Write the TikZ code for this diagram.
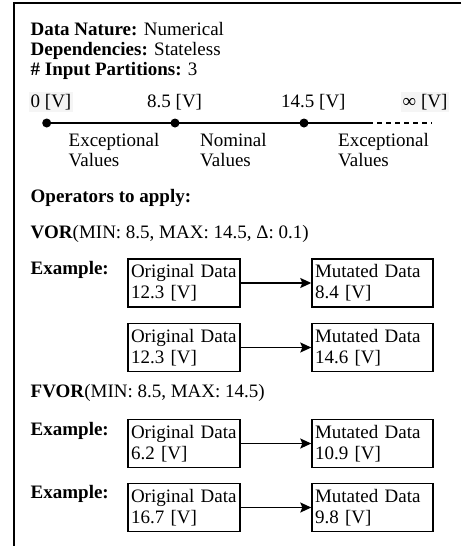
\documentclass[tikz,border=0pt]{standalone}
\usepackage{fontspec}
\setmainfont{Liberation Serif}
\usetikzlibrary{arrows.meta}
\begin{document}
\begin{tikzpicture}[x=1pt,y=-1pt,
  txt/.style={anchor=base west,inner sep=0pt,font=\fontsize{19}{21}\selectfont},
  lbl/.style={txt,fill=black!4,inner xsep=1.5pt,inner ysep=2pt},
  databox/.style={draw,line width=1.4pt,minimum width=#1,minimum height=48,text width=#1-6,align=left,inner xsep=2pt,inner ysep=0pt,font=\fontsize{19}{21}\selectfont},
  dot/.style={circle,fill=black,inner sep=0pt,minimum size=9},
  arr/.style={line width=1.4pt,-{Stealth[length=11,width=10,inset=2]}},
  frame/.style={line width=1.4pt}]
\useasboundingbox (0,0) rectangle (461,546);
\draw[frame] (461,3) -- (14,3) -- (14,546);
% header
\node[txt] (h1) at (30.5,35) {\textbf{Data Nature:} Numerical};
\node[txt] (h2) at (30.5,55) {\textbf{Dependencies:} Stateless};
\node[txt] (h3) at (30.5,75) {\textbf{\# Input Partitions:} 3};
% axis labels
\node[lbl] (l0) at (29,107) {0 [V]};
\node[txt] (l1) at (147,107) {8.5 [V]};
\node[txt] (l2) at (281,107) {14.5 [V]};
\node[lbl] (l3) at (401,107) {∞ [V]};
% axis
\node[dot] (d0) at (46.7,123) {};
\node[dot] (d1) at (175,123) {};
\node[dot] (d2) at (304,123) {};
\coordinate (se) at (368,123);
\coordinate (de) at (432,123);
\draw[line width=1.4pt] (d0.center) -- (d1.center) -- (d2.center) -- (se);
\draw[line width=1.4pt,dash pattern=on 5pt off 4pt] (se) -- (de);
% region labels
\node[txt] (e1a) at (68.5,146) {Exceptional};
\node[txt] (e1b) at (68.5,166) {Values};
\node[txt] (n1a) at (200,146) {Nominal};
\node[txt] (n1b) at (200,166) {Values};
\node[txt] (e2a) at (338,146) {Exceptional};
\node[txt] (e2b) at (338,166) {Values};
% operators
\node[txt] (op) at (30.5,202) {\textbf{Operators to apply:}};
\node[txt] (vor) at (30.5,238) {\textbf{VOR}(MIN: 8.5, MAX: 14.5, Δ: 0.1)};
\node[txt] (ex1) at (30.5,274) {\textbf{Example:}};
\node[databox=112] (o1) at (184,283) {Original Data\\12.3 [V]};
\node[databox=121] (m1) at (372.5,283) {Mutated Data\\8.4 [V]};
\draw[arr] (o1) -- (m1);
\node[databox=112] (o2) at (184,347.5) {Original Data\\12.3 [V]};
\node[databox=121] (m2) at (372.5,347.5) {Mutated Data\\14.6 [V]};
\draw[arr] (o2) -- (m2);
\node[txt] (fvor) at (30.5,397) {\textbf{FVOR}(MIN: 8.5, MAX: 14.5)};
\node[txt] (ex3) at (30.5,435) {\textbf{Example:}};
\node[databox=112] (o3) at (184,443.5) {Original Data\\6.2 [V]};
\node[databox=121] (m3) at (372.5,443.5) {Mutated Data\\10.9 [V]};
\draw[arr] (o3) -- (m3);
\node[txt] (ex4) at (30.5,498) {\textbf{Example:}};
\node[databox=112] (o4) at (184,507.5) {Original Data\\16.7 [V]};
\node[databox=121] (m4) at (372.5,507.5) {Mutated Data\\9.8 [V]};
\draw[arr] (o4) -- (m4);
\end{tikzpicture}
\end{document}
